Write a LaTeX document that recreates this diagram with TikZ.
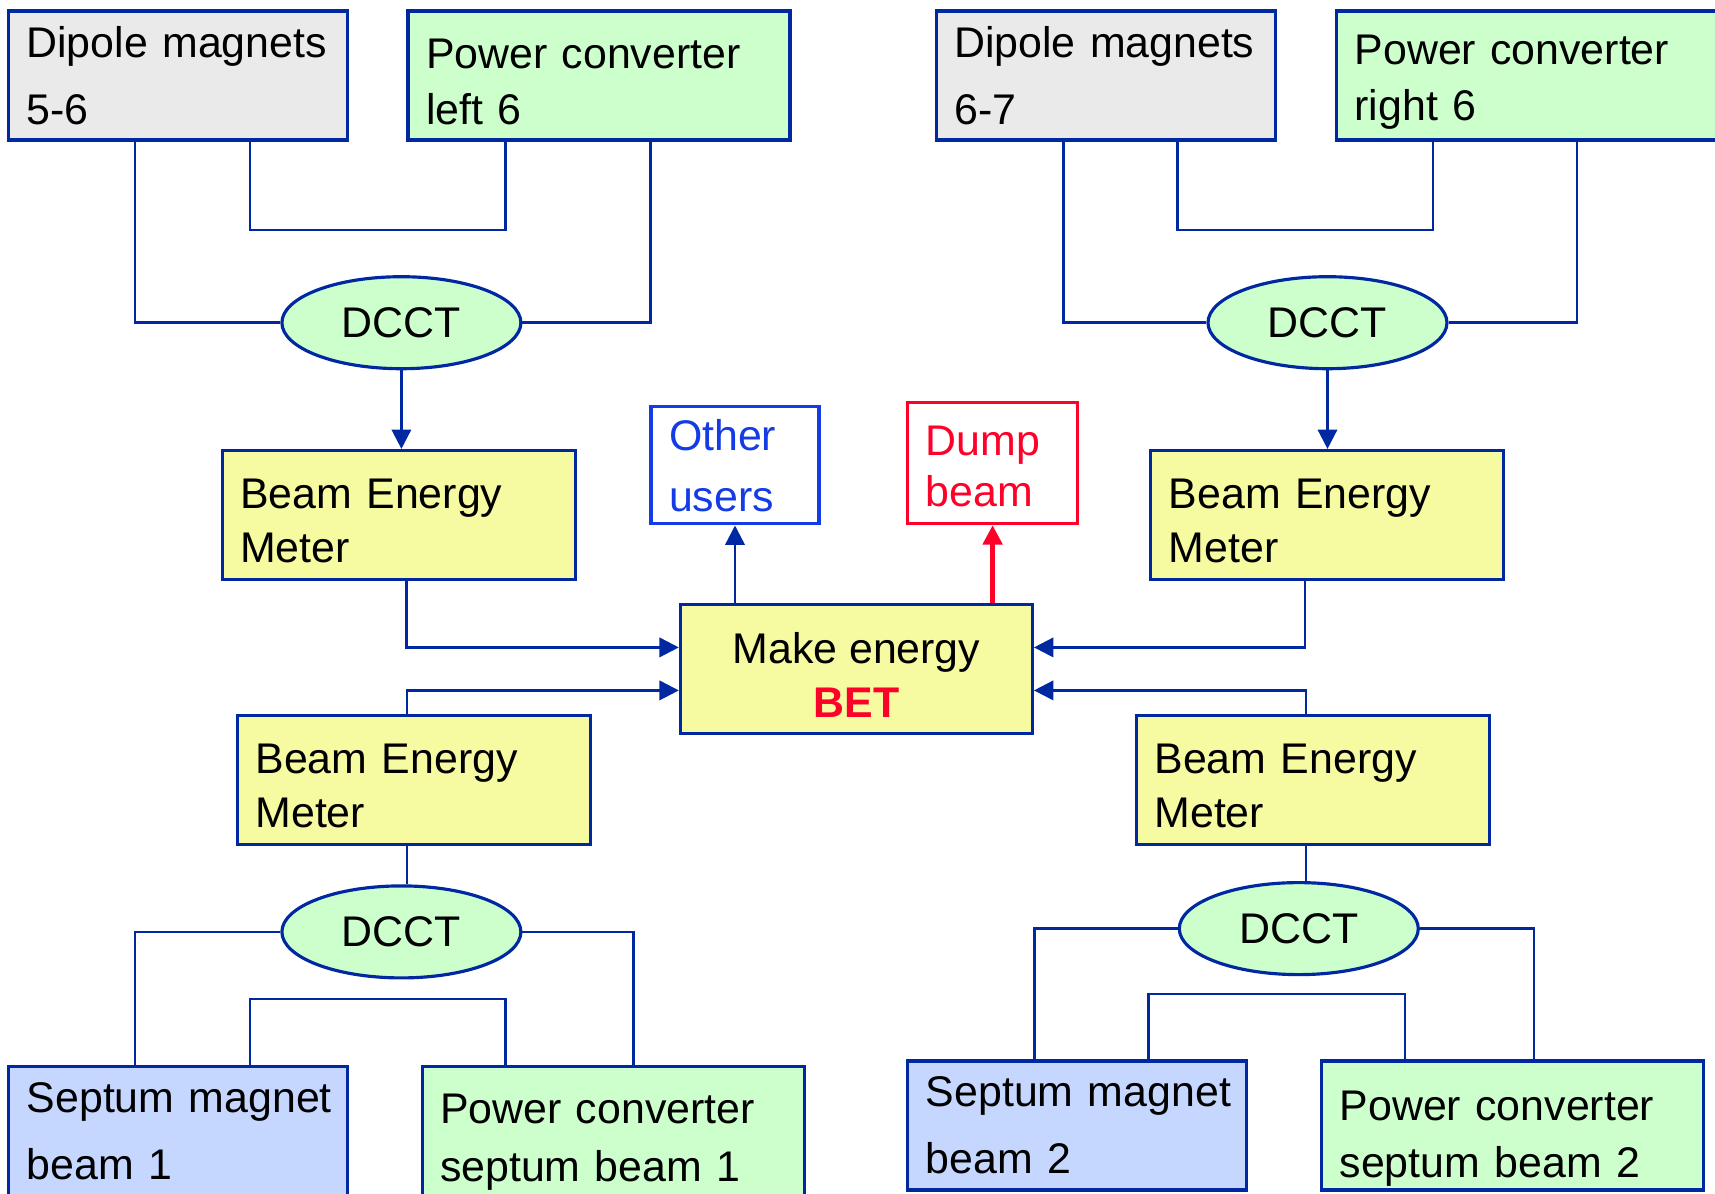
\documentclass[tikz,border=0pt]{standalone}
\usepackage{fontspec}
\setmainfont{Liberation Sans}
\usepackage{tikz}
\usetikzlibrary{arrows.meta, positioning, shapes.geometric, calc}
\definecolor{LineBlue}{RGB}{0, 40, 160}
\definecolor{MagnetGray}{RGB}{234, 234, 234}
\definecolor{ConvGreen}{RGB}{204, 255, 204}
\definecolor{MeterYellow}{RGB}{246, 250, 160}
\definecolor{SeptumBlue}{RGB}{198, 215, 255}
\definecolor{UserBlue}{RGB}{20, 60, 230}
\definecolor{DumpRed}{RGB}{255, 0, 40}
\newcommand{\padtop}[1]{\rule{0pt}{#1}}

\begin{document}
\begin{tikzpicture}[
      x=0.1mm, y=-0.1mm,
      box/.style={rectangle, draw=LineBlue, line width=0.9pt, minimum height=12.9mm, inner xsep=1.8mm, inner ysep=0pt, align=left, font=\fontsize{12.2}{16}\selectfont},
      magnet/.style={box, fill=MagnetGray, text width=30.3mm, font=\fontsize{12.2}{19}\selectfont},
      conv/.style={box, fill=ConvGreen, text width=34.6mm},
      meter/.style={box, fill=MeterYellow, text width=31.7mm, font=\fontsize{12.2}{15.4}\selectfont},
      dcct/.style={ellipse, draw=LineBlue, line width=0.9pt, fill=ConvGreen, minimum width=23.9mm, minimum height=9.2mm, inner sep=0pt, font=\fontsize{12.2}{15}\selectfont},
      wire/.style={draw=LineBlue, line width=0.7pt},
      arrow/.style={wire, -{Triangle[length=5.5pt, width=5.5pt]}},
    ]
    \useasboundingbox (0,0) rectangle (1715,1193);
    \clip (0,0) rectangle (1715,1193);

    % Top left: dipoles 5-6 and left converter
    \node[magnet, minimum width=33.9mm] (dip56) at (178,75.5) {Dipole magnets\\5-6};
    \node[conv, minimum width=38.2mm] (pcl6) at (599,75.5) {\padtop{12pt}Power converter\\left 6};
    \node[dcct] (dcctl) at (401.4,322.7) {DCCT};
    \node[meter, minimum width=35.3mm] (bemtl) at (398.7,515) {\padtop{12pt}Beam Energy\\Meter};

    % Top right: dipoles 6-7 and right converter
    \node[magnet, minimum width=33.9mm] (dip67) at (1105.7,75.5) {Dipole magnets\\6-7};
    \node[conv, minimum width=38.2mm] (pcr6) at (1527.6,75.5) {\padtop{12pt}Power converter\\right 6};
    \node[dcct] (dcctr) at (1327.5,322.7) {DCCT};
    \node[meter, minimum width=35.3mm] (bemtr) at (1327.3,515) {\padtop{12pt}Beam Energy\\Meter};

    % Centre: BET and its users
    \node[box, fill=MeterYellow, minimum width=35.2mm, align=center, font=\fontsize{12.2}{15.4}\selectfont] (bet) at (856.4,669.4) {\padtop{12pt}Make energy\\\textcolor{DumpRed}{\textbf{BET}}};
    \node[box, draw=UserBlue, fill=white, minimum width=16.8mm, minimum height=11.7mm, text width=13.2mm, text=UserBlue, font=\fontsize{12.2}{17.4}\selectfont] (users) at (735,465.4) {Other\\users};
    \node[box, draw=DumpRed, fill=white, minimum width=17mm, minimum height=12.1mm, text width=13.4mm, text=DumpRed, font=\fontsize{12.2}{14.5}\selectfont] (dump) at (992.6,463.2) {\padtop{10pt}Dump\\beam};

    % Bottom left: septum beam 1
    \node[meter, minimum width=35.3mm] (bembl) at (414,779.8) {\padtop{12pt}Beam Energy\\Meter};
    \node[dcct] (dcctbl) at (401.4,931.9) {DCCT};
    \node[magnet, minimum width=33.9mm, fill=SeptumBlue] (sep1) at (178.3,1130.9) {\mbox{Septum magnet}\\beam 1};
    \node[conv, minimum width=38.2mm, font=\fontsize{12.2}{16.5}\selectfont] (pcs1) at (613.1,1130.9) {\padtop{15pt}Power converter\\septum beam 1};

    % Bottom right: septum beam 2
    \node[meter, minimum width=35.3mm] (bembr) at (1313,779.8) {\padtop{12pt}Beam Energy\\Meter};
    \node[dcct] (dcctbr) at (1298.8,928.6) {DCCT};
    \node[magnet, minimum width=33.9mm, fill=SeptumBlue] (sep2) at (1077.4,1125.5) {\mbox{Septum magnet}\\beam 2};
    \node[conv, minimum width=38.2mm, font=\fontsize{12.2}{16.2}\selectfont] (pcs2) at (1512.7,1125.5) {\padtop{16pt}Power converter\\septum beam 2};

    % DCCT loops, top
    \draw[wire] (dcctl.west) -| ([xshift=12.8mm]dip56.south west);
    \draw[wire] (dcctl.east) -| ([xshift=24.4mm]pcl6.south west);
    \draw[wire] ([xshift=24.3mm]dip56.south west) -- ++(0,88.6) -| ([xshift=9.9mm]pcl6.south west);
    \draw[wire] (dcctr.west) -| ([xshift=12.9mm]dip67.south west);
    \draw[wire] (dcctr.east) -| ([xshift=24.2mm]pcr6.south west);
    \draw[wire] ([xshift=24.3mm]dip67.south west) -- ++(0,88.6) -| ([xshift=9.8mm]pcr6.south west);

    % DCCT loops, bottom
    \draw[wire] (dcctbl.west) -| ([xshift=12.8mm]sep1.north west);
    \draw[wire] (dcctbl.east) -| ([xshift=21.3mm]pcs1.north west);
    \draw[wire] ([xshift=24.3mm]sep1.north west) -- ++(0,-65.6) -| ([xshift=8.5mm]pcs1.north west);
    \draw[wire] (dcctbr.west) -| ([xshift=12.8mm]sep2.north west);
    \draw[wire] (dcctbr.east) -| ([xshift=21.4mm]pcs2.north west);
    \draw[wire] ([xshift=24.2mm]sep2.north west) -- ++(0,-65.7) -| ([xshift=8.5mm]pcs2.north west);

    % DCCT to meters
    \draw[arrow] (dcctl.south) -- (dcctl.south |- bemtl.north);
    \draw[arrow] (dcctr.south) -- (dcctr.south |- bemtr.north);
    \draw[wire] ([xshift=17.1mm]bembl.south west) -- ([xshift=17.1mm]bembl.south west |- dcctbl.north);
    \draw[wire] ([xshift=17.1mm]bembr.south west) -- ([xshift=17.1mm]bembr.south west |- dcctbr.north);

    % Meters into BET
    \draw[arrow] ([xshift=18.6mm]bemtl.south west) |- ([yshift=2.2mm]bet.west);
    \draw[arrow] ([xshift=17.1mm]bembl.north west) |- ([yshift=-2.1mm]bet.west);
    \draw[arrow] ([xshift=15.6mm]bemtr.south west) |- ([yshift=2.2mm]bet.east);
    \draw[arrow] ([xshift=17.1mm]bembr.north west) |- ([yshift=-2.1mm]bet.east);

    % BET outputs
    \draw[arrow] (bet.north -| users.south) -- (users.south);
    \draw[arrow, draw=DumpRed, line width=1.2pt] (bet.north -| dump.south) -- (dump.south);
  \end{tikzpicture}
\end{document}
